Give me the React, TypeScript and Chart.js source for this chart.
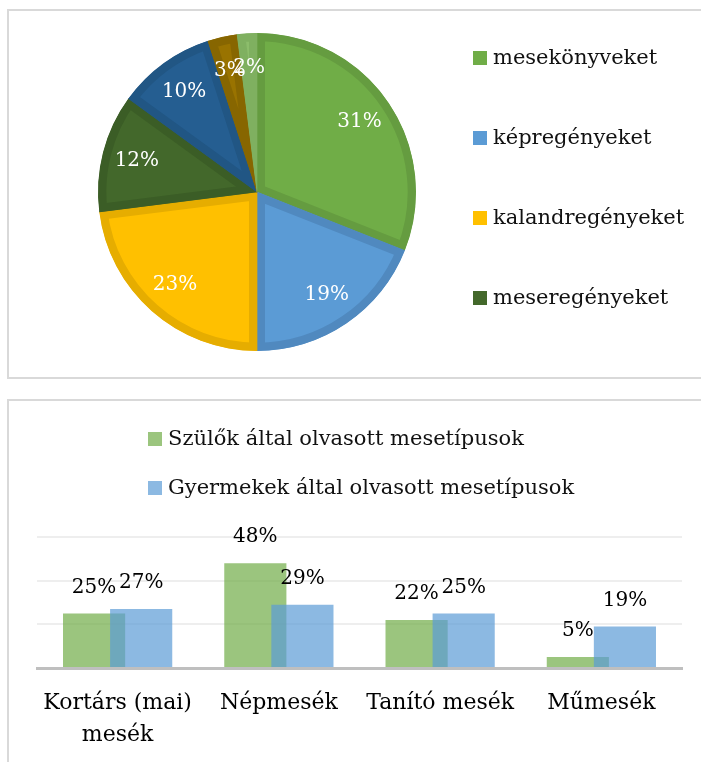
import React, { useEffect, useRef } from "react";
import { Chart, registerables } from "chart.js";

Chart.register(...registerables);

// ---------- Pie data ----------
const pieCategories = [
  "mesekönyveket",
  "képregényeket",
  "kalandregényeket",
  "meseregényeket",
  "egyéb 1",
  "egyéb 2",
  "egyéb 3",
];
const pieValues = [31, 19, 23, 12, 10, 3, 2];
const pieLegendCount = 4;
const pieFill = ["#70AD47", "#5B9BD5", "#FFC000", "#43682B", "#255E91", "#997300", "#8CBD6B"];
const pieBand = ["#659C40", "#5089BF", "#E6AD00", "#3B5D26", "#215684", "#876600", "#7FB060"];

// ---------- Bar data ----------
const barCategories: (string | string[])[] = [["Kortárs (mai)", "mesék"], "Népmesék", "Tanító mesék", "Műmesék"];
const seriesNames = ["Szülők által olvasott mesetípusok", "Gyermekek által olvasott mesetípusok"];
const parentValues = [25, 48, 22, 5];
const childValues = [27, 29, 25, 19];
const yMax = 60;
const yStep = 20;

const FONT = "'DejaVu Serif', serif";

const pieExtras = {
  id: "pieExtras",
  afterDatasetsDraw(chart: any) {
    const ctx = chart.ctx;
    const meta = chart.getDatasetMeta(0);
    ctx.save();
    ctx.font = `20px ${FONT}`;
    ctx.fillStyle = "#ffffff";
    ctx.textAlign = "center";
    ctx.textBaseline = "middle";
    meta.data.forEach((arc: any, i: number) => {
      const p = arc.getProps(["x", "y", "startAngle", "endAngle", "outerRadius"], true);
      const mid = (p.startAngle + p.endAngle) / 2;
      const r = p.outerRadius * 0.78;
      ctx.fillText(pieValues[i] + "%", p.x + Math.cos(mid) * r, p.y + Math.sin(mid) * r);
    });
    // legend (only the first entries fit, as in the original)
    ctx.textAlign = "left";
    ctx.font = `21px ${FONT}`;
    for (let i = 0; i < pieLegendCount; i++) {
      const cy = 47 + i * 80;
      ctx.fillStyle = pieFill[i];
      ctx.fillRect(464, cy - 7, 14, 14);
      ctx.fillStyle = "#111111";
      ctx.fillText(pieCategories[i], 484, cy + 1);
    }
    ctx.restore();
  },
};

const barExtras = {
  id: "barExtras",
  beforeDatasetDraw(chart: any, args: any) {
    if (args.index === 1) return false;
  },
  afterDatasetsDraw(chart: any) {
    const ctx = chart.ctx;
    const blueMeta = chart.getDatasetMeta(1);
    ctx.save();
    blueMeta.controller.draw();
    ctx.restore();

    ctx.save();
    ctx.font = `20px ${FONT}`;
    ctx.fillStyle = "#000000";
    ctx.textAlign = "center";
    ctx.textBaseline = "middle";
    [0, 1].forEach((di) => {
      const meta = chart.getDatasetMeta(di);
      const vals = di === 0 ? parentValues : childValues;
      meta.data.forEach((bar: any, i: number) => {
        const p = bar.getProps(["x", "y"], true);
        ctx.fillText(vals[i] + "%", p.x, p.y - 26);
      });
    });
    // legend
    ctx.textAlign = "left";
    ctx.font = `21px ${FONT}`;
    const colors = ["rgba(112,173,71,0.7)", "rgba(91,155,213,0.7)"];
    seriesNames.forEach((name, i) => {
      const cy = 38 + i * 49;
      ctx.fillStyle = colors[i];
      ctx.fillRect(139, cy - 7, 14, 14);
      ctx.fillStyle = "#111111";
      ctx.fillText(name, 159, cy + 1);
    });
    ctx.restore();
  },
};

function PieChart() {
  const ref = useRef<HTMLCanvasElement>(null);
  useEffect(() => {
    const chart = new Chart(ref.current!, {
      type: "pie",
      data: {
        labels: pieCategories,
        datasets: [
          {
            data: pieValues,
            backgroundColor: pieFill,
            borderColor: pieBand,
            borderWidth: 8,
            borderAlign: "inner",
          } as any,
        ],
      },
      options: {
        responsive: false,
        animation: false,
        layout: { padding: { left: 89, top: 22, right: 285, bottom: 26 } },
        plugins: { legend: { display: false }, tooltip: { enabled: false } },
      },
      plugins: [pieExtras],
    });
    return () => chart.destroy();
  }, []);
  return <canvas ref={ref} width={692} height={366} style={{ width: 692, height: 366, display: "block" }} />;
}

function BarChart() {
  const ref = useRef<HTMLCanvasElement>(null);
  useEffect(() => {
    const chart = new Chart(ref.current!, {
      type: "bar",
      data: {
        labels: barCategories as any,
        datasets: [
          {
            label: seriesNames[0],
            data: parentValues,
            backgroundColor: "rgba(112,173,71,0.7)",
            categoryPercentage: 0.584,
            barPercentage: 1.32,
          },
          {
            label: seriesNames[1],
            data: childValues,
            backgroundColor: "rgba(91,155,213,0.7)",
            categoryPercentage: 0.584,
            barPercentage: 1.32,
          },
        ],
      },
      options: {
        responsive: false,
        animation: false,
        layout: { padding: { left: 28, top: 136, right: 19, bottom: 0 } },
        plugins: { legend: { display: false }, tooltip: { enabled: false } },
        scales: {
          x: {
            grid: { display: false, drawTicks: false },
            border: { display: true, color: "#bfbfbf", width: 3 },
            ticks: {
              color: "#000000",
              padding: 19,
              maxRotation: 0,
              autoSkip: false,
              font: { family: FONT, size: 22, lineHeight: 1.45 },
            },
            afterFit: (scale: any) => {
              scale.height = 94;
            },
          },
          y: {
            min: 0,
            max: yMax,
            ticks: { display: false, stepSize: yStep },
            grid: { color: "#eeeeee", lineWidth: 2, drawTicks: false },
            border: { display: false },
            afterFit: (scale: any) => {
              scale.width = 0;
            },
          },
        },
      },
      plugins: [barExtras],
    });
    return () => chart.destroy();
  }, []);
  return <canvas ref={ref} width={692} height={361} style={{ width: 692, height: 361, display: "block" }} />;
}

export default function App() {
  return (
    <div style={{ position: "fixed", left: 0, top: 0, width: 701, height: 762, overflow: "hidden", background: "#fff" }}>
      <div
        style={{
          position: "absolute",
          left: 7,
          top: 9,
          width: 760,
          height: 366,
          border: "2px solid #d9d9d9",
        }}
      >
        <PieChart />
      </div>
      <div
        style={{
          position: "absolute",
          left: 7,
          top: 399,
          width: 760,
          height: 420,
          border: "2px solid #d9d9d9",
        }}
      >
        <BarChart />
      </div>
    </div>
  );
}
